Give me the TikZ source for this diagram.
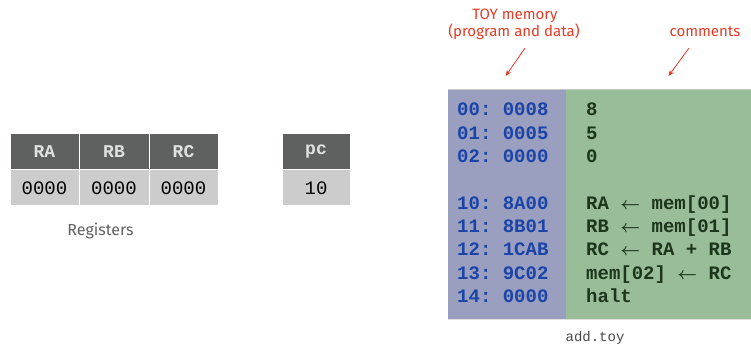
\documentclass[tikz,border=0pt]{standalone}
\usepackage{fontspec}
\usepackage{amsmath}
\setmainfont{Fira Sans}
\setmonofont{Liberation Mono}
\usetikzlibrary{arrows.meta}
\definecolor{hdrbg}{HTML}{5F6160}
\definecolor{valbg}{HTML}{CCCCCC}
\definecolor{hdrtx}{HTML}{E0E0E0}
\definecolor{memblue}{HTML}{9A9EBF}
\definecolor{memgreen}{HTML}{99BD98}
\definecolor{addrtx}{HTML}{1A44A8}
\definecolor{cmttx}{HTML}{1C361C}
\definecolor{notered}{HTML}{E63A24}
\definecolor{cap}{HTML}{606060}
\tikzset{
  cell/.style={draw=white, line width=1pt, minimum height=36pt, inner sep=0pt},
  hdr/.style={cell, fill=hdrbg, text=hdrtx,
    font=\fontsize{18}{20}\selectfont\ttfamily\bfseries},
  val/.style={cell, fill=valbg, text=black,
    font=\fontsize{19}{21}\selectfont\ttfamily},
  addr/.style={anchor=base west, inner sep=0pt, text=addrtx,
    font=\fontsize{19}{21}\selectfont\ttfamily\bfseries},
  cmt/.style={anchor=base west, inner sep=0pt, text=cmttx,
    font=\fontsize{19}{21}\selectfont\ttfamily\bfseries},
  note/.style={text=notered, inner sep=0pt, anchor=base, font=\fontsize{15}{17}\selectfont},
  notearrow/.style={draw=notered, line width=0.8pt, -{Stealth[length=6pt,width=5pt]}}
}
\newcommand{\lar}{$\boldsymbol{\leftarrow}$}
\begin{document}
\begin{tikzpicture}[x=1pt,y=-1pt]
\useasboundingbox (0,0) rectangle (751,347);
% registers
\node[hdr, minimum width=69pt] (ra) at (44.5,152) {RA};
\node[hdr, minimum width=70pt] (rb) at (114,152) {RB};
\node[hdr, minimum width=69pt] (rc) at (183.5,152) {RC};
\node[val, minimum width=69pt] (rav) at (44.5,188) {0000};
\node[val, minimum width=70pt] (rbv) at (114,188) {0000};
\node[val, minimum width=69pt] (rcv) at (183.5,188) {0000};
\node[hdr, minimum width=68pt] (pc) at (316,152) {pc};
\node[val, minimum width=68pt] (pcv) at (316,188) {10};
\node[anchor=base, inner sep=0pt, text=cap, font=\fontsize{16}{18}\selectfont] (reglbl) at (100.5,235) {Registers};
% memory
\fill[memblue] (448,89) rectangle (566,319);
\fill[memgreen] (566,89) rectangle (751,319);
\draw[color=black!22, line width=0.8pt] (448,89) -- (751,89);
\draw[color=black!12, line width=0.8pt] (448,319) -- (751,319);
\node[addr] (m0) at (457,116) {00: 0008};
\node[addr] (m1) at (457,139.3) {01: 0005};
\node[addr] (m2) at (457,162.6) {02: 0000};
\node[addr] (m10) at (457,209.2) {10: 8A00};
\node[addr] (m11) at (457,232.5) {11: 8B01};
\node[addr] (m12) at (457,255.8) {12: 1CAB};
\node[addr] (m13) at (457,279.1) {13: 9C02};
\node[addr] (m14) at (457,302.4) {14: 0000};
\node[cmt] (c0) at (586,116) {8};
\node[cmt] (c1) at (586,139.3) {5};
\node[cmt] (c2) at (586,162.6) {0};
\node[cmt] (c10) at (586,209.2) {RA \lar{} mem[00]};
\node[cmt] (c11) at (586,232.5) {RB \lar{} mem[01]};
\node[cmt] (c12) at (586,255.8) {RC \lar{} RA + RB};
\node[cmt] (c13) at (586,279.1) {mem[02] \lar{} RC};
\node[cmt] (c14) at (586,302.4) {halt};
\node[anchor=base, inner sep=0pt, text=black!72, font=\fontsize{14}{16}\selectfont\ttfamily] (fname) at (595,341) {add.toy};
% notes
\node[note] (n1a) at (515,20) {TOY memory};
\node[note] (n1b) at (514,37) {(program and data)};
\node[note] (n2) at (705,37) {comments};
\coordinate (a1s) at (525,48);
\coordinate (a1e) at (505.7,76);
\coordinate (a2s) at (689,48);
\coordinate (a2e) at (668.5,76);
\draw[notearrow] (a1s) -- (a1e);
\draw[notearrow] (a2s) -- (a2e);
\end{tikzpicture}
\end{document}
